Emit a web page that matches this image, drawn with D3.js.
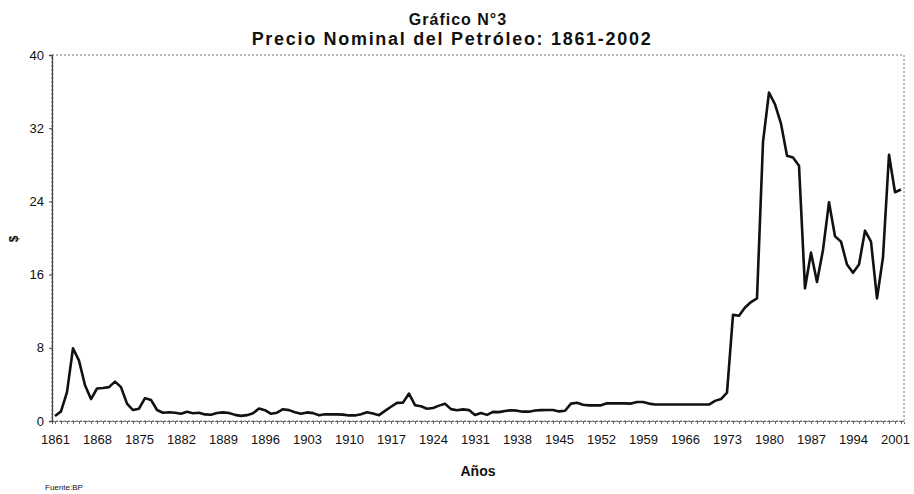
<!DOCTYPE html>
<meta charset="utf-8">
<script src="https://d3js.org/d3.v7.min.js"></script>
<style>
    body { margin: 0; background: #fff; }
    svg text { font-family: Arial, "Liberation Sans", sans-serif; fill: #111; }
</style>
<div id="my_chart"><svg></svg></div>
<script>
    // years 1861 - 2002 (categories)
    var firstYear = 1861, lastYear = 2002;
    var years = d3.range(firstYear, lastYear + 1);

    // nominal oil price, US$ per barrel
    var prices = [
        0.55, 1.05, 3.15, 7.95, 6.6, 3.9, 2.4, 3.55, 3.6, 3.7,      // 1861-1870
        4.3, 3.7, 1.9, 1.2, 1.35, 2.5, 2.3, 1.2, 0.9, 0.95,         // 1871-1880
        0.9, 0.8, 1.0, 0.85, 0.9, 0.72, 0.68, 0.88, 0.94, 0.87,     // 1881-1890
        0.67, 0.56, 0.64, 0.84, 1.36, 1.18, 0.79, 0.91, 1.29, 1.19, // 1891-1900
        0.96, 0.8, 0.94, 0.86, 0.62, 0.73, 0.72, 0.72, 0.7, 0.61,   // 1901-1910
        0.61, 0.74, 0.95, 0.81, 0.64, 1.1, 1.56, 1.98, 2.01, 3.0,   // 1911-1920
        1.73, 1.61, 1.34, 1.43, 1.68, 1.88, 1.3, 1.17, 1.27, 1.19,  // 1921-1930
        0.65, 0.87, 0.67, 1.0, 0.97, 1.09, 1.18, 1.13, 1.02, 1.02,  // 1931-1940
        1.14, 1.19, 1.2, 1.21, 1.05, 1.12, 1.9, 1.99, 1.78, 1.71,   // 1941-1950
        1.71, 1.71, 1.93, 1.93, 1.93, 1.93, 1.9, 2.08, 2.08, 1.9,   // 1951-1960
        1.8, 1.8, 1.8, 1.8, 1.8, 1.8, 1.8, 1.8, 1.8, 1.8,           // 1961-1970
        2.2, 2.4, 3.1, 11.6, 11.5, 12.4, 13.0, 13.4, 30.5, 35.9,    // 1971-1980
        34.6, 32.5, 29.0, 28.8, 27.9, 14.5, 18.4, 15.2, 18.7, 23.9, // 1981-1990
        20.2, 19.6, 17.1, 16.2, 17.1, 20.8, 19.6, 13.4, 17.9, 29.1, // 1991-2000
        25.0, 25.3                                                  // 2001-2002
    ];

    var xTickLabels = ["1861", "1868", "1875", "1882", "1889", "1896", "1903", "1910",
        "1917", "1924", "1931", "1938", "1945", "1952", "1959", "1966", "1973",
        "1980", "1987", "1994", "2001"];
    var yTicks = [0, 8, 16, 24, 32, 40];

    var data = years.map(function(yr, i) { return {year: yr, value: prices[i]}; });

    var W = 914, H = 494;
    var plot = {left: 52, right: 904, top: 55, bottom: 421};

    var svg = d3.select("#my_chart").select("svg")
        .attr("width", W)
        .attr("height", H);

    var x = d3.scalePoint()
        .domain(years)
        .range([plot.left, plot.right])
        .padding(0.5);

    var y = d3.scaleLinear()
        .domain([0, 40])
        .range([plot.bottom, plot.top]);

    // dotted frame around plot area
    svg.append("rect")
        .attr("x", plot.left)
        .attr("y", plot.top)
        .attr("width", plot.right - plot.left)
        .attr("height", plot.bottom - plot.top)
        .attr("fill", "none")
        .attr("stroke", "#777")
        .attr("stroke-width", 1)
        .attr("stroke-dasharray", "2,2");

    // X axis: a tick for every year, labels every 7 years
    var xAxis = svg.append("g")
        .attr("transform", "translate(0," + plot.bottom + ")")
        .call(d3.axisBottom(x)
            .tickSize(3)
            .tickFormat(function(d) { return xTickLabels.indexOf(String(d)) >= 0 ? d : ""; }));
    xAxis.select(".domain")
        .attr("stroke", "#666")
        .attr("stroke-dasharray", "2,1");
    xAxis.selectAll(".tick line").attr("stroke", "#666");
    xAxis.selectAll("text")
        .attr("y", 14)
        .style("font-size", "13px");

    // Y axis
    var yAxis = svg.append("g")
        .attr("transform", "translate(" + plot.left + ",0)")
        .call(d3.axisLeft(y).tickValues(yTicks).tickSize(3).tickPadding(5));
    yAxis.select(".domain").attr("stroke", "#444").attr("stroke-width", 1.3);
    yAxis.selectAll(".tick line").attr("stroke", "#444");
    yAxis.selectAll("text").style("font-size", "13px");

    // price line
    svg.append("path")
        .datum(data)
        .attr("fill", "none")
        .attr("stroke", "#111")
        .attr("stroke-width", 2.6)
        .attr("stroke-linejoin", "round")
        .attr("d", d3.line()
            .x(function(d) { return x(d.year); })
            .y(function(d) { return y(d.value); }));

    // titles
    svg.append("text")
        .attr("x", 458)
        .attr("y", 25)
        .attr("text-anchor", "middle")
        .style("font-size", "16px")
        .style("font-weight", "bold")
        .style("letter-spacing", "1px")
        .text("Gráfico N°3");

    svg.append("text")
        .attr("x", 452)
        .attr("y", 45)
        .attr("text-anchor", "middle")
        .style("font-size", "18px")
        .style("font-weight", "bold")
        .style("letter-spacing", "1.7px")
        .text("Precio Nominal del Petróleo: 1861-2002");

    // axis titles
    svg.append("text")
        .attr("x", 478)
        .attr("y", 476)
        .attr("text-anchor", "middle")
        .style("font-size", "14px")
        .style("font-weight", "bold")
        .text("Años");

    svg.append("text")
        .attr("transform", "translate(18,239) rotate(-90)")
        .attr("text-anchor", "middle")
        .style("font-size", "12px")
        .style("font-weight", "bold")
        .text("$");

    // source
    svg.append("text")
        .attr("x", 45)
        .attr("y", 490)
        .style("font-size", "8px")
        .text("Fuente:BP");
</script>
